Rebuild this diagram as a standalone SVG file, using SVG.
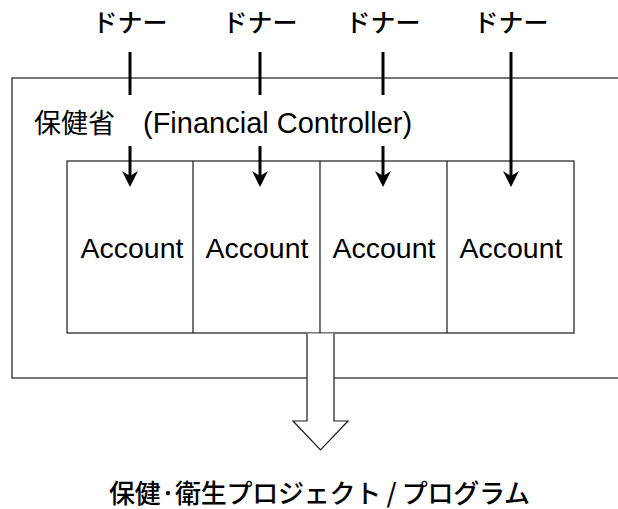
<svg xmlns="http://www.w3.org/2000/svg" width="618" height="509" viewBox="0 0 618 509">
<defs>
<style>
.box{fill:#fff;stroke:#1a1a1a;stroke-width:1.2}
.div{stroke:#1a1a1a;stroke-width:1.2}
.don{fill:none;stroke:#000;stroke-width:3}
.jp{font-family:"Noto Sans CJK JP","Noto Sans",sans-serif;fill:#000}
.lat{font-family:"Liberation Sans","Noto Sans CJK JP",sans-serif;fill:#000}
.acc{font-family:"Liberation Sans",Arial,sans-serif;font-size:28.5px;text-anchor:middle;fill:#000}
.dn{font-size:25px;font-weight:500;text-anchor:middle}
</style>
<marker id="ah" markerUnits="userSpaceOnUse" viewBox="-8 -9 18 18" refX="0" refY="0" markerWidth="18" markerHeight="18" orient="auto">
<path d="M9,0 L-7,-8 L-2,0 L-7,8 Z" fill="#000"/>
</marker>
</defs>
<rect width="618" height="509" fill="#fff"/>

<g id="ministry">
<rect class="box" x="12" y="78" width="620" height="300"/>
<text x="34" y="133" class="jp" font-size="27">保健省<tspan class="lat" x="143" font-size="29">(Financial Controller)</tspan></text>
</g>

<g id="accounts">
<rect class="box" x="67" y="161" width="507" height="172"/>
<line class="div" x1="193" y1="161" x2="193" y2="333"/>
<line class="div" x1="320" y1="161" x2="320" y2="333"/>
<line class="div" x1="447" y1="161" x2="447" y2="333"/>
</g>
<g id="account1"><text class="acc" x="132" y="258">Account</text></g>
<g id="account2"><text class="acc" x="257" y="258">Account</text></g>
<g id="account3"><text class="acc" x="384" y="258">Account</text></g>
<g id="account4"><text class="acc" x="511" y="258">Account</text></g>

<g id="donor1"><text class="jp dn" x="130" y="32">ドナー</text></g>
<g id="donor2"><text class="jp dn" x="260" y="32">ドナー</text></g>
<g id="donor3"><text class="jp dn" x="383" y="32">ドナー</text></g>
<g id="donor4"><text class="jp dn" x="511" y="32">ドナー</text></g>

<g id="connectors">
<path class="don" d="M130,52 V95"/>
<path class="don" d="M130,146 V178" marker-end="url(#ah)"/>
<path class="don" d="M260,52 V95"/>
<path class="don" d="M260,146 V178" marker-end="url(#ah)"/>
<path class="don" d="M383,52 V95"/>
<path class="don" d="M383,146 V178" marker-end="url(#ah)"/>
<path class="don" d="M511,52 V178" marker-end="url(#ah)"/>
<path d="M307,333.6 V421 H293 L320.5,450 L348,421 H334 V333.6" fill="#fff" stroke="#1a1a1a" stroke-width="1.2"/>
</g>

<g id="output">
<text class="jp" x="109" y="503" font-size="26" font-weight="500" textLength="421" lengthAdjust="spacing">保健·衛生プロジェクト / プログラム</text>
</g>
</svg>
